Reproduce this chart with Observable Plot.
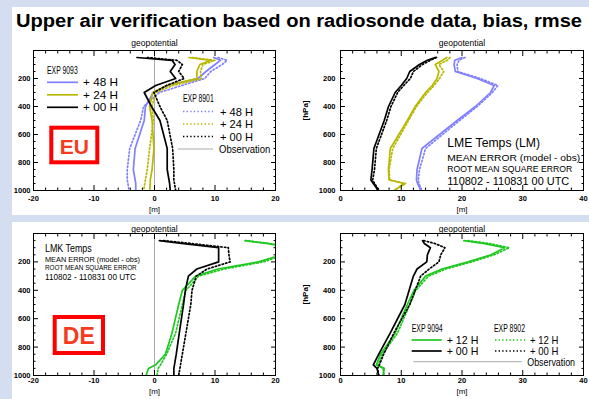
<!DOCTYPE html>
<html><head><meta charset="utf-8">
<script src="https://cdn.jsdelivr.net/npm/d3@7"></script>
<script src="https://cdn.jsdelivr.net/npm/@observablehq/plot@0.6"></script>
<style>
html,body{margin:0;padding:0;}
body{width:589px;height:399px;background:#d5ddf0;position:relative;overflow:hidden;font-family:"Liberation Sans",Arial,sans-serif;}
.white{position:absolute;background:#fff;}
.panel{position:absolute;}
#overlay{position:absolute;left:0;top:0;}
</style></head><body>
<div class="white" style="left:12px;top:7px;width:577px;height:208px"></div>
<div class="white" style="left:12px;top:222px;width:577px;height:177px"></div>
<div id="p1" class="panel" style="left:0;top:35px"></div>
<div id="p2" class="panel" style="left:290px;top:35px"></div>
<div id="p3" class="panel" style="left:0;top:222px"></div>
<div id="p4" class="panel" style="left:290px;top:222px"></div>
<svg id="overlay" width="589" height="399"></svg>
<script>
// ---------- data ----------
const title = "Upper air verification based on radiosonde data, bias, rmse";
const levels = [50, 70, 100, 150, 200, 250, 300, 400, 500, 700, 850, 925, 950, 1000];

// EU bias (mean error) [m]
const eu_bias_9093_48 = [9.8, 10.9, 10.0, 8.5, 7.2, 2.2, -0.2, -1.5, -1.7, -3.2, -3.5, -3.2, -3.1, -3.1];
const eu_bias_8901_48 = [10.5, 12.0, 11.2, 9.3, 8.3, 4.5, 0.8, -1.8, -2.3, -4.1, -4.5, -4.5, -4.4, -4.2];
const eu_bias_9093_24 = [5.7, 9.3, 7.5, 7.0, 7.0, 2.0, -0.3, -0.8, -0.4, -0.1, -0.4, -0.7, -0.7, -0.8];
const eu_bias_8901_24 = [6.2, 10.0, 8.0, 7.6, 7.8, 3.0, 0.2, -0.4, -0.2, -0.8, -1.2, -1.5, -1.6, -1.8];
const eu_bias_9093_00 = [-2.9, 2.9, 3.4, 2.6, 3.5, 0.2, -1.7, -0.5, 0.9, 2.1, 2.1, 2.4, 2.5, 2.6];
const eu_bias_8901_00 = [-1.2, 3.7, 4.6, 4.0, 4.9, 2.0, -0.1, 0.9, 2.1, 3.0, 3.2, 3.2, 3.3, 3.5];

// EU rmse [m]
const eu_rmse_9093_48 = [20.0, 18.8, 18.7, 18.9, 22.5, 25.3, 24.7, 22.2, 19.2, 13.4, 12.6, 12.5, 12.7, 13.2];
const eu_rmse_8901_48 = [20.5, 19.5, 19.2, 19.3, 23.0, 25.9, 25.0, 22.5, 19.6, 14.0, 13.0, 12.8, 12.9, 13.4];
const eu_rmse_9093_24 = [17.5, 16.8, 15.6, 16.2, 15.9, 15.1, 14.0, 12.3, 11.0, 8.2, 7.9, 8.0, 10.7, 8.8];
const eu_rmse_8901_24 = [18.0, 17.6, 16.2, 17.0, 16.3, 15.4, 14.3, 12.5, 11.2, 8.6, 8.0, 8.1, 10.4, 8.9];
const eu_rmse_9093_00 = [15.6, 14.3, 13.0, 11.4, 10.9, 10.0, 9.0, 7.9, 7.2, 5.5, 5.2, 5.0, 5.4, 6.2];
const eu_rmse_8901_00 = [15.8, 14.8, 13.5, 12.0, 11.5, 10.4, 9.4, 8.3, 7.6, 5.9, 5.6, 5.3, 5.6, 6.4];

// DE bias [m]
const de_bias_9094_12 = [15.0, 18.5, 23.0, 21.0, 17.2, 10.5, 6.8, 4.6, 4.0, 2.9, 1.8, 0.2, -1.0, -1.4];
const de_bias_8902_12 = [15.0, 19.0, 23.5, 21.5, 18.0, 11.5, 7.3, 5.2, 4.6, 3.5, 2.0, 1.0, 0.6, 0.4];
const de_bias_9094_00 = [0.8, 4.5, 10.6, 10.6, 10.6, 7.0, 5.6, 5.1, 4.8, 4.1, 3.6, 3.3, 3.2, 3.2];
const de_bias_8902_00 = [1.5, 6.0, 12.2, 12.3, 12.5, 8.7, 6.9, 6.2, 6.0, 5.2, 4.6, 4.3, 4.2, 4.0];

// DE rmse [m]
const de_rmse_9094_12 = [20.3, 23.5, 27.0, 24.8, 21.0, 16.7, 14.0, 12.1, 11.0, 9.0, 6.6, 5.9, 7.2, 7.0];
const de_rmse_8902_12 = [21.0, 24.5, 27.8, 25.3, 21.6, 17.3, 14.5, 12.4, 11.4, 9.4, 6.9, 6.2, 7.0, 7.2];
const de_rmse_9094_00 = [13.5, 13.8, 14.8, 14.3, 14.2, 12.6, 12.0, 11.3, 10.6, 8.2, 6.3, 5.4, 6.0, 6.3];
const de_rmse_8902_00 = [13.7, 15.5, 17.2, 16.5, 16.2, 14.6, 13.2, 12.3, 11.4, 8.8, 7.1, 6.4, 6.1, 6.3];

// ticks
const yMajor = [200, 400, 600, 800, 1000];
const yMinor = d3.range(50, 1000, 50).filter(v => v % 200 !== 0);
const xMajorBias = [-20, -10, 0, 10, 20];
const xMinorBias = d3.range(-18, 20, 2).filter(v => v % 10 !== 0);
const xMajorRmse = [0, 10, 20, 30, 40];
const xMinorRmse = d3.range(2, 40, 2).filter(v => v % 10 !== 0);

// ---------- styles ----------
const BLUE = "#8080ff", YELLOW = "#b8b800", GREEN = "#1ec81e", BLACK = "#000", GRAY = "#aaaaaa";
const DOT = "1.4,2.2";
const FONT = "'Liberation Sans', Arial, sans-serif";
const LW = 1.7;

function series(values, color, dotted) { return {values, color, dotted}; }

function panel(el, o) {
  const marks = [];
  if (o.obs) marks.push(Plot.ruleX([0], {stroke: GRAY, strokeWidth: 1}));
  for (const s of o.series) {
    const pts = levels.map((p, i) => ({p, v: s.values[i]}));
    marks.push(Plot.line(pts, {x: "v", y: "p", stroke: s.color, strokeWidth: LW,
      strokeDasharray: s.dotted ? DOT : null, clip: true}));
  }
  marks.push(Plot.frame({stroke: "#000", strokeWidth: 1}));
  const blank = () => "";
  marks.push(
    Plot.axisX({anchor: "bottom", ticks: o.xMajor, tickSize: -5, tickPadding: 5 + o.xPad, tickFormat: d => String(d), label: null, fontWeight: "bold"}),
    Plot.axisX({anchor: "bottom", ticks: o.xMinor, tickSize: -2.5, tickFormat: blank, label: null}),
    Plot.axisX({anchor: "top", ticks: o.xMajor, tickSize: -5, tickFormat: blank, label: null}),
    Plot.axisX({anchor: "top", ticks: o.xMinor, tickSize: -2.5, tickFormat: blank, label: null}),
    Plot.axisY({anchor: "left", ticks: yMajor, tickSize: -5, tickPadding: 5 + o.yGap, tickFormat: d => String(d), label: null, fontWeight: "bold"}),
    Plot.axisY({anchor: "left", ticks: yMinor, tickSize: -2.5, tickFormat: blank, label: null}),
    Plot.axisY({anchor: "right", ticks: yMajor, tickSize: -5, tickFormat: blank, label: null}),
    Plot.axisY({anchor: "right", ticks: yMinor, tickSize: -2.5, tickFormat: blank, label: null}),
    Plot.text(["geopotential"], {text: d => d, frameAnchor: "top", dy: -o.titleGap, lineAnchor: "middle", fontSize: 8.5}),
    Plot.text(["[m]"], {text: d => d, frameAnchor: "bottom", dy: o.unitGap, lineAnchor: "middle", fontSize: 8})
  );
  if (o.hpa) marks.push(Plot.text(["[hPa]"], {text: d => d, frameAnchor: "left", dx: -35, rotate: -90, lineAnchor: "middle", fontSize: 8, fontWeight: "bold"}));
  const chart = Plot.plot({
    width: o.width, height: o.height,
    marginLeft: o.mL, marginRight: o.mR, marginTop: o.mT, marginBottom: o.mB,
    x: {domain: o.xDomain},
    y: {domain: [0, 1000], reverse: true},
    style: {background: "transparent", fontSize: "7.5px", fontFamily: FONT, overflow: "visible", color: "#000"},
    marks
  });
  chart.style.maxWidth = "none";
  document.getElementById(el).appendChild(chart);
}

panel("p1", {width: 290, height: 180, mL: 33, mR: 15, mT: 15, mB: 25, xDomain: [-20, 20],
  xMajor: xMajorBias, xMinor: xMinorBias, xPad: 5, yGap: 3, obs: true, hpa: false, titleGap: 7.7, unitGap: 18.5,
  series: [series(eu_bias_9093_48, BLUE), series(eu_bias_8901_48, BLUE, true),
           series(eu_bias_9093_24, YELLOW), series(eu_bias_8901_24, YELLOW, true),
           series(eu_bias_9093_00, BLACK), series(eu_bias_8901_00, BLACK, true)]});
panel("p2", {width: 299, height: 180, mL: 50, mR: 6, mT: 15, mB: 25, xDomain: [0, 40],
  xMajor: xMajorRmse, xMinor: xMinorRmse, xPad: 5, yGap: 5, obs: false, hpa: true, titleGap: 7.7, unitGap: 18.5,
  series: [series(eu_rmse_9093_48, BLUE), series(eu_rmse_8901_48, BLUE, true),
           series(eu_rmse_9093_24, YELLOW), series(eu_rmse_8901_24, YELLOW, true),
           series(eu_rmse_9093_00, BLACK), series(eu_rmse_8901_00, BLACK, true)]});
panel("p3", {width: 290, height: 177, mL: 33, mR: 15, mT: 11, mB: 24, xDomain: [-20, 20],
  xMajor: xMajorBias, xMinor: xMinorBias, xPad: 2.5, yGap: 3, obs: true, hpa: false, titleGap: 4.7, unitGap: 15.5,
  series: [series(de_bias_9094_12, GREEN), series(de_bias_8902_12, GREEN, true),
           series(de_bias_9094_00, BLACK), series(de_bias_8902_00, BLACK, true)]});
panel("p4", {width: 299, height: 177, mL: 50, mR: 6, mT: 11, mB: 24, xDomain: [0, 40],
  xMajor: xMajorRmse, xMinor: xMinorRmse, xPad: 2.5, yGap: 5, obs: false, hpa: true, titleGap: 4.7, unitGap: 15.5,
  series: [series(de_rmse_9094_12, GREEN), series(de_rmse_8902_12, GREEN, true),
           series(de_rmse_9094_00, BLACK), series(de_rmse_8902_00, BLACK, true)]});

// ---------- title / legends / annotations ----------
const svg = d3.select("#overlay").style("font-family", FONT);
svg.append("text").attr("x", 16).attr("y", 26.5).attr("font-size", 18).attr("font-weight", "bold")
  .attr("textLength", 566).attr("lengthAdjust", "spacingAndGlyphs").attr("fill", "#000").text(title);

function txt(t, x, y, w, fs, opts = {}) {
  const e = svg.append("text").attr("x", x).attr("y", y).attr("dominant-baseline", "central")
    .attr("font-size", fs).attr("fill", opts.fill || "#000").text(t);
  if (w) e.attr("textLength", w).attr("lengthAdjust", "spacingAndGlyphs");
  if (opts.bold) e.attr("font-weight", "bold");
  return e;
}
function sample(x1, x2, y, color, dotted, sw = LW) {
  svg.append("line").attr("x1", x1).attr("x2", x2).attr("y1", y).attr("y2", y)
    .attr("stroke", color).attr("stroke-width", sw).attr("stroke-dasharray", dotted ? DOT : null);
}
function box(x, y, w, h, label, fs) {
  svg.append("rect").attr("x", x).attr("y", y).attr("width", w).attr("height", h)
    .attr("fill", "#fff").attr("stroke", "#ff0000").attr("stroke-width", 4);
  svg.append("text").attr("x", x + w / 2).attr("y", y + h / 2 + 1).attr("text-anchor", "middle")
    .attr("dominant-baseline", "central").attr("font-size", fs).attr("font-weight", "bold")
    .attr("fill", "#f53a1e").text(label);
}

// EU bias legend
const euRows = [["+ 48 H", BLUE], ["+ 24 H", YELLOW], ["+ 00 H", BLACK]];
txt("EXP 9093", 47, 70, 30.7, 10.5);
euRows.forEach(([t, c], i) => { const y = 82.3 + i * 12.5; sample(47, 78, y, c, false); txt(t, 83, y, 35, 10.5); });
txt("EXP 8901", 183, 97.7, 30.7, 10.5);
euRows.forEach(([t, c], i) => { const y = 111.5 + i * 12.5; sample(183, 213, y, c, true); txt(t, 220, y, 33, 10.5); });
sample(178, 213, 149, GRAY, false, 1);
txt("Observation", 219, 149, 51.3, 10.5);
box(51.3, 127.7, 46, 34.6, "EU", 21);

// EU rmse annotation
txt("LME Temps (LM)", 447.3, 143.3, 92.7, 12.5);
txt("MEAN ERROR (model - obs)", 447.3, 158.3, 133, 9);
txt("ROOT MEAN SQUARE ERROR", 447.3, 168.6, 125, 9);
txt("110802 - 110831 00 UTC", 447.3, 180.7, 122, 10.5);

// DE bias annotation
txt("LMK Temps", 45, 248.3, 46.7, 10);
txt("MEAN ERROR (model - obs)", 45, 259, 95, 7.5);
txt("ROOT MEAN SQUARE ERROR", 45, 267.3, 91.7, 7.5);
txt("110802 - 110831 00 UTC", 45, 276.7, 91, 8.5);
box(54.7, 317, 48.3, 36, "DE", 23);

// DE rmse legend
const deRows = [["+ 12 H", GREEN], ["+ 00 H", BLACK]];
txt("EXP 9094", 411.7, 328.3, 31, 10.5);
txt("EXP 8902", 494, 328.3, 31, 10.5);
deRows.forEach(([t, c], i) => {
  const y = 340 + i * 11;
  sample(411.7, 441.7, y, c, false); txt(t, 446.7, y, 31.7, 10.5);
  sample(495, 525, y, c, true); txt(t, 530, y, 28.3, 10.5);
});
sample(413.3, 521.7, 361.7, GRAY, false, 1);
txt("Observation", 527.3, 361.7, 47.7, 10.5);
</script>
</body></html>
